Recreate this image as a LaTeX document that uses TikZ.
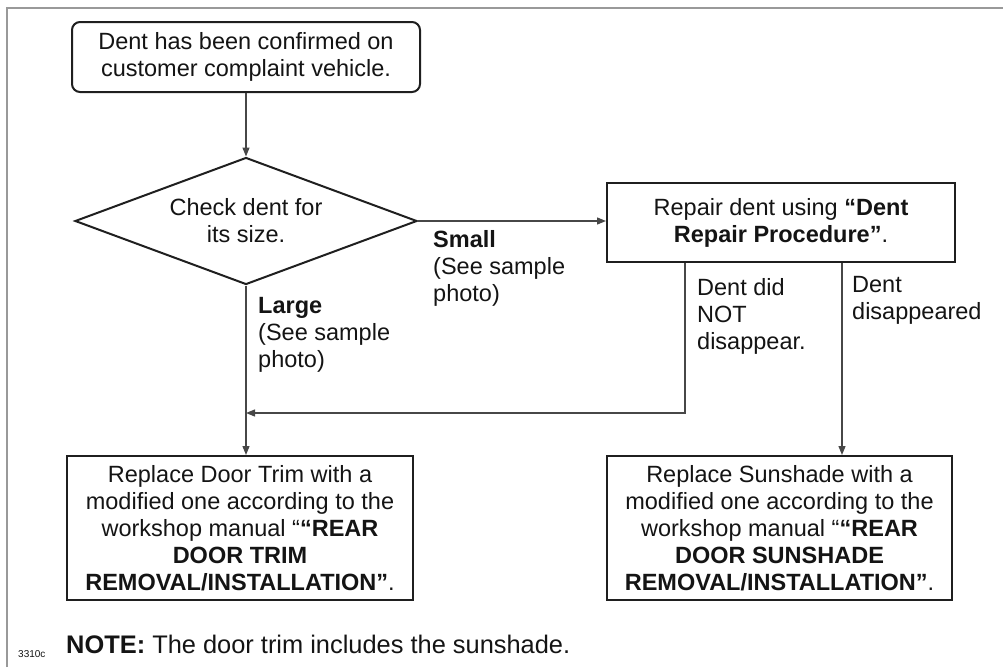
\documentclass[tikz,border=0pt]{standalone}
\usepackage{fontspec}
\setmainfont{Liberation Sans}
\usetikzlibrary{shapes.geometric,arrows.meta,calc}
\begin{document}
\begin{tikzpicture}[x=1pt,y=-1pt,
  txt/.style={font=\fontsize{23.5}{27}\selectfont,text=black!92},
  box/.style={txt,draw=black!88,line width=2pt,inner sep=0pt,align=center},
  conn/.style={draw=black!72,line width=1.3pt},
  arr/.style={conn,-{Triangle[length=9pt,width=7pt]}},
  lbl/.style={txt,anchor=north west,align=left,inner sep=0pt}]
\useasboundingbox (0,0) rectangle (1003,667);
\draw[black!40,line width=2.5pt] (7,667) -- (7,8) -- (1003,8);
\node[box,rounded corners=8pt,minimum width=348pt,minimum height=70pt] (start) at (246,57) {Dent has been confirmed on\\customer complaint vehicle.};
\node[box,diamond,aspect=2.7,minimum width=342pt,minimum height=127pt] (check) at (246,221) {Check dent for\\its size.};
\node[box,minimum width=348pt,minimum height=79pt] (repair) at (781,222.5) {Repair dent using \textbf{“Dent}\\\textbf{Repair Procedure”}.};
\node[box,minimum width=346pt,minimum height=144pt] (trim) at (240,528) {Replace Door Trim with a\\modified one according to the\\workshop manual “\textbf{“REAR}\\\textbf{DOOR TRIM}\\\textbf{REMOVAL/INSTALLATION”}.};
\node[box,minimum width=345pt,minimum height=144pt] (sun) at (779.5,528) {Replace Sunshade with a\\modified one according to the\\workshop manual “\textbf{“REAR}\\\textbf{DOOR SUNSHADE}\\\textbf{REMOVAL/INSTALLATION”}.};
\coordinate (mid) at (685,413);
\coordinate (merge) at (check.south |- mid);
\coordinate (x2) at (842,0);
\draw[arr] (start) -- (check);
\draw[arr] (check.east) -- (check.east -| repair.west);
\draw[arr] (check.south) -- (check.south |- trim.north);
\draw[arr] (repair.south -| mid) -- (mid) -- (merge);
\draw[arr] (repair.south -| x2) -- (x2 |- sun.north);
\node[lbl] (small) at (433,230) {\textbf{Small}\\(See sample\\photo)};
\node[lbl] (large) at (258,297) {\textbf{Large}\\(See sample\\photo)};
\node[lbl] (notd) at (697,278) {Dent did\\NOT\\disappear.};
\node[lbl] (disap) at (852,276) {Dent\\disappeared};
\node[anchor=base west,inner sep=0pt,font=\fontsize{25.4}{29}\selectfont,text=black!92] (note) at (66,653) {\textbf{NOTE:} The door trim includes the sunshade.};
\node[anchor=base west,inner sep=0pt,font=\fontsize{10}{12}\selectfont,text=black!92] (code) at (18,657) {3310c};
\end{tikzpicture}
\end{document}
